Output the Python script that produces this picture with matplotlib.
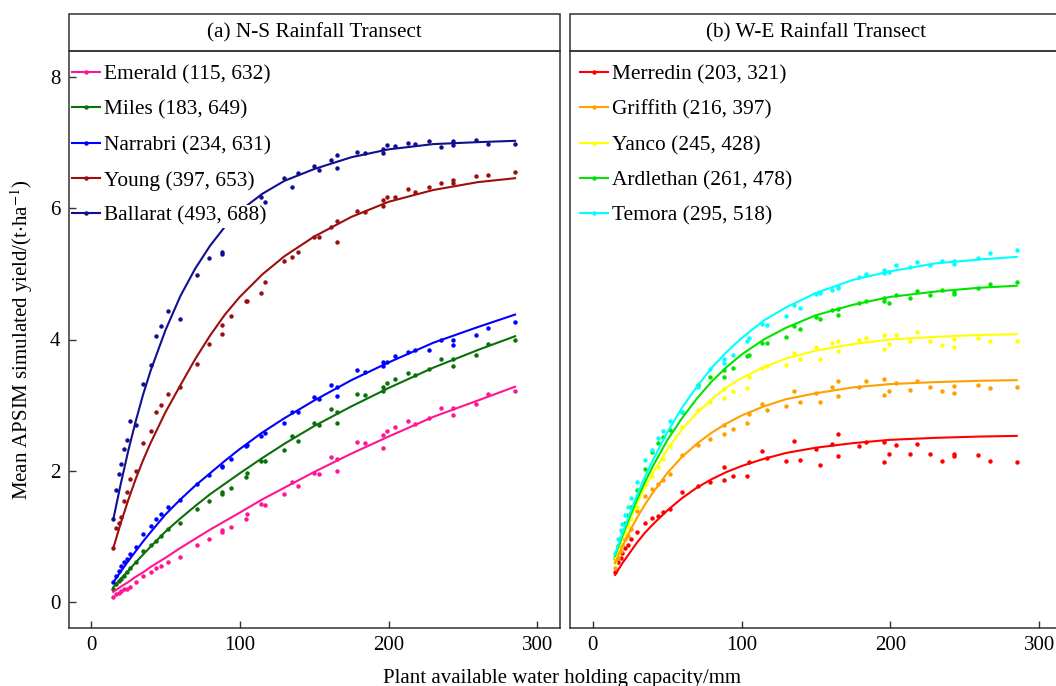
import matplotlib
matplotlib.use("Agg")
import matplotlib.pyplot as plt
from matplotlib.lines import Line2D
from matplotlib.patches import Rectangle

plt.rcParams["font.family"] = ["Liberation Serif", "DejaVu Serif"]
plt.rcParams["mathtext.fontset"] = "stix"

# plant available water holding capacity of the simulated soils (mm)
pawc = [15, 17, 19, 20, 22, 24, 26, 30, 35, 40, 44, 47, 52, 60, 71, 79, 88, 88, 94,
        104, 105, 114, 117, 130, 135, 139, 150, 153, 161, 165, 165, 179, 184, 196,
        196, 199, 204, 213, 218, 227, 235, 243, 243, 259, 267, 285]
fit_x = [15, 20, 25, 30, 35, 40, 50, 60, 70, 80, 90, 100, 115, 130, 150, 175, 200, 230, 260, 285]

# (a) N-S transect
ns_names = ["Emerald (115, 632)", "Miles (183, 649)", "Narrabri (234, 631)",
            "Young (397, 653)", "Ballarat (493, 688)"]
ns_colors = ["#FF1493", "#0A700A", "#0000FF", "#9B0F0F", "#10108F"]
emerald = [0.07, 0.12, 0.14, 0.17, 0.19, 0.20, 0.23, 0.30, 0.40, 0.46, 0.51, 0.55, 0.61, 0.69, 0.87, 0.96,
           1.07, 1.09, 1.14, 1.26, 1.34, 1.49, 1.48, 1.64, 1.82, 1.77, 1.97, 1.95, 2.21, 2.18, 2.00, 2.43,
           2.42, 2.55, 2.34, 2.61, 2.66, 2.75, 2.71, 2.80, 2.96, 2.96, 2.85, 3.02, 3.17, 3.22]
miles = [0.19, 0.27, 0.32, 0.35, 0.40, 0.45, 0.51, 0.60, 0.78, 0.86, 0.93, 1.00, 1.11, 1.20, 1.41, 1.54,
         1.64, 1.68, 1.73, 1.91, 1.96, 2.15, 2.14, 2.31, 2.53, 2.45, 2.72, 2.70, 2.94, 2.73, 2.90, 3.17,
         3.16, 3.27, 3.21, 3.33, 3.40, 3.49, 3.46, 3.55, 3.70, 3.70, 3.60, 3.77, 3.93, 4.00]
narrabri = [0.30, 0.40, 0.47, 0.54, 0.60, 0.65, 0.73, 0.84, 1.03, 1.15, 1.26, 1.34, 1.44, 1.55, 1.79, 1.94,
            2.05, 2.07, 2.17, 2.38, 2.39, 2.53, 2.58, 2.73, 2.89, 2.90, 3.12, 3.09, 3.30, 3.14, 3.28, 3.53,
            3.51, 3.60, 3.65, 3.66, 3.75, 3.81, 3.84, 3.84, 4.00, 4.00, 3.91, 4.07, 4.18, 4.26]
young = [0.82, 1.13, 1.20, 1.30, 1.54, 1.67, 1.88, 1.99, 2.42, 2.61, 2.89, 3.00, 3.17, 3.28, 3.62, 3.93,
         4.22, 4.08, 4.36, 4.58, 4.59, 4.71, 4.87, 5.19, 5.26, 5.34, 5.56, 5.57, 5.72, 5.48, 5.81, 5.96,
         5.94, 6.12, 6.03, 6.17, 6.18, 6.30, 6.25, 6.33, 6.39, 6.44, 6.38, 6.49, 6.51, 6.56]
ballarat = [1.26, 1.71, 1.95, 2.10, 2.33, 2.47, 2.76, 2.69, 3.32, 3.61, 4.06, 4.20, 4.44, 4.32, 4.98, 5.25,
            5.31, 5.34, 5.80, 5.90, 6.00, 6.18, 6.10, 6.47, 6.32, 6.54, 6.65, 6.59, 6.74, 6.62, 6.81, 6.86,
            6.85, 6.84, 6.90, 6.96, 6.95, 6.99, 6.98, 7.02, 6.93, 7.03, 6.97, 7.05, 6.98, 6.98]
emerald_fit = [0.15, 0.23, 0.30, 0.38, 0.45, 0.53, 0.67, 0.82, 0.96, 1.10, 1.23, 1.36, 1.56, 1.74, 1.98, 2.26, 2.52, 2.82, 3.07, 3.28]
miles_fit = [0.22, 0.35, 0.47, 0.60, 0.72, 0.84, 1.07, 1.27, 1.46, 1.64, 1.80, 1.96, 2.19, 2.41, 2.68, 2.98, 3.26, 3.57, 3.84, 4.05]
narrabri_fit = [0.30, 0.46, 0.62, 0.77, 0.92, 1.06, 1.33, 1.56, 1.77, 1.96, 2.15, 2.33, 2.58, 2.80, 3.07, 3.38, 3.65, 3.95, 4.19, 4.38]
young_fit = [0.82, 1.20, 1.55, 1.87, 2.16, 2.42, 2.89, 3.30, 3.70, 4.06, 4.38, 4.65, 4.99, 5.27, 5.57, 5.87, 6.10, 6.28, 6.40, 6.46]
ballarat_fit = [1.26, 1.80, 2.30, 2.75, 3.16, 3.52, 4.14, 4.66, 5.08, 5.43, 5.72, 5.96, 6.22, 6.42, 6.60, 6.78, 6.90, 6.98, 7.01, 7.03]

# (b) W-E transect
we_names = ["Merredin (203, 321)", "Griffith (216, 397)", "Yanco (245, 428)",
            "Ardlethan (261, 478)", "Temora (295, 518)"]
we_colors = ["#FF0000", "#FFA000", "#FFFF00", "#00E400", "#00FFFF"]
merredin = [0.46, 0.60, 0.67, 0.75, 0.82, 0.87, 0.95, 1.06, 1.20, 1.28, 1.31, 1.37, 1.41, 1.67, 1.77, 1.83,
            2.05, 1.86, 1.92, 1.92, 2.13, 2.30, 2.20, 2.15, 2.45, 2.16, 2.33, 2.09, 2.40, 2.56, 2.22, 2.38,
            2.44, 2.44, 2.13, 2.25, 2.39, 2.25, 2.40, 2.25, 2.14, 2.25, 2.23, 2.24, 2.14, 2.13]
griffith = [0.51, 0.66, 0.78, 0.86, 0.95, 1.01, 1.11, 1.39, 1.61, 1.72, 1.80, 1.86, 1.95, 2.24, 2.39, 2.48,
            2.70, 2.56, 2.63, 2.73, 2.86, 3.01, 2.93, 2.98, 3.22, 3.04, 3.18, 3.04, 3.28, 3.37, 3.14, 3.28,
            3.36, 3.39, 3.16, 3.22, 3.34, 3.23, 3.37, 3.27, 3.22, 3.29, 3.18, 3.30, 3.26, 3.27]
yanco = [0.60, 0.75, 0.85, 0.97, 1.05, 1.15, 1.27, 1.45, 1.78, 1.92, 2.05, 2.18, 2.38, 2.67, 2.93, 3.05,
         3.24, 3.11, 3.22, 3.26, 3.43, 3.57, 3.60, 3.61, 3.79, 3.70, 3.88, 3.70, 3.94, 3.98, 3.83, 4.00,
         4.03, 4.07, 3.85, 3.93, 4.07, 3.97, 4.11, 3.98, 3.92, 4.01, 3.88, 4.03, 3.97, 3.98]
ardlethan = [0.67, 0.85, 0.98, 1.07, 1.20, 1.33, 1.45, 1.70, 2.02, 2.28, 2.42, 2.52, 2.62, 2.89, 3.31, 3.43,
             3.43, 3.53, 3.57, 3.75, 3.77, 3.94, 3.95, 4.04, 4.20, 4.16, 4.35, 4.32, 4.45, 4.46, 4.38, 4.55,
             4.58, 4.63, 4.59, 4.56, 4.68, 4.64, 4.74, 4.68, 4.75, 4.73, 4.70, 4.78, 4.85, 4.88]
temora = [0.74, 0.95, 1.10, 1.18, 1.32, 1.45, 1.58, 1.82, 2.16, 2.32, 2.50, 2.60, 2.76, 2.90, 3.28, 3.55,
          3.64, 3.71, 3.77, 3.98, 4.03, 4.23, 4.22, 4.36, 4.53, 4.48, 4.70, 4.71, 4.75, 4.78, 4.80, 4.96,
          5.00, 5.06, 5.02, 5.03, 5.13, 5.10, 5.18, 5.14, 5.20, 5.20, 5.15, 5.25, 5.32, 5.37]
merredin_fit = [0.41, 0.59, 0.75, 0.91, 1.05, 1.17, 1.39, 1.58, 1.74, 1.87, 1.98, 2.07, 2.18, 2.27, 2.35, 2.42, 2.47, 2.50, 2.52, 2.53]
griffith_fit = [0.59, 0.85, 1.08, 1.29, 1.48, 1.65, 1.96, 2.21, 2.41, 2.58, 2.72, 2.84, 2.98, 3.09, 3.18, 3.27, 3.32, 3.35, 3.37, 3.38]
yanco_fit = [0.66, 0.97, 1.25, 1.51, 1.74, 1.95, 2.32, 2.63, 2.88, 3.09, 3.27, 3.41, 3.58, 3.71, 3.83, 3.93, 4.00, 4.04, 4.07, 4.08]
ardlethan_fit = [0.70, 1.01, 1.30, 1.57, 1.82, 2.05, 2.46, 2.80, 3.10, 3.36, 3.58, 3.77, 4.00, 4.18, 4.37, 4.53, 4.65, 4.73, 4.79, 4.82]
temora_fit = [0.72, 1.05, 1.35, 1.64, 1.90, 2.14, 2.58, 2.96, 3.28, 3.57, 3.81, 4.02, 4.29, 4.49, 4.71, 4.91, 5.04, 5.16, 5.22, 5.26]

W, H = 1056, 686
fig = plt.figure(figsize=(W / 100, H / 100), dpi=100)


def panel(left_px, title, names, colors, series, fits, show_y, legend_x):
    ax = fig.add_axes([left_px / W, 58 / H, 491 / W, 577 / H])
    handles = []
    for name, col, pts, fit in zip(names, colors, series, fits):
        ax.plot(pawc, pts, "o", ms=3.2, mew=0, color=col, zorder=2)
        ax.plot(fit_x, fit, "-", lw=1.5, color=col, zorder=3)
        handles.append(Line2D([], [], color=col, lw=1.5, marker="o", ms=2.2, label=name))

    ax.set_xlim(-15, 315)
    ax.set_ylim(-0.4, 8.4)
    ax.set_xticks([0, 100, 200, 300])
    ax.set_yticks([0, 2, 4, 6, 8])
    ax.tick_params(direction="in", length=5, width=1, color="0.2", labelsize=15, pad=6)
    if not show_y:
        ax.tick_params(axis="y", left=False, labelleft=False)
    for sp in ax.spines.values():
        sp.set_color("0.2")
        sp.set_linewidth(1.1)

    # facet strip on top of the panel
    strip_h = 37 / 577
    ax.add_patch(Rectangle((0, 1), 1, strip_h, transform=ax.transAxes, clip_on=False,
                           facecolor="white", edgecolor="0.2", linewidth=1.1))
    ax.text(0.5, 1 + strip_h / 2, title, transform=ax.transAxes, ha="center", va="center", fontsize=15.3)

    # legend texts sit on white boxes that mask the curves behind them
    leg = ax.legend(handles=handles, loc="upper left", bbox_to_anchor=(legend_x, 0.984), borderaxespad=0,
                    frameon=False, fontsize=15.4, handlelength=1.29, handletextpad=0.22,
                    labelspacing=0.72, borderpad=0.2)
    for t in leg.get_texts():
        t.set_bbox(dict(facecolor="white", edgecolor="none", pad=1.5))
    return ax


panel(68.7, "(a) N-S Rainfall Transect", ns_names, ns_colors,
      [emerald, miles, narrabri, young, ballarat],
      [emerald_fit, miles_fit, narrabri_fit, young_fit, ballarat_fit], True, -0.002)
panel(570.4, "(b) W-E Rainfall Transect", we_names, we_colors,
      [merredin, griffith, yanco, ardlethan, temora],
      [merredin_fit, griffith_fit, yanco_fit, ardlethan_fit, temora_fit], False, 0.011)

fig.text(22 / W, 1 - 339.5 / H, r"Mean APSIM simulated yield/(t$\cdot$ha$^{-1}$)",
         rotation=90, ha="center", va="center", fontsize=15)
fig.text(562 / W, 3 / H, "Plant available water holding capacity/mm",
         ha="center", va="baseline", fontsize=15)

fig.savefig("out.png", dpi=100)
